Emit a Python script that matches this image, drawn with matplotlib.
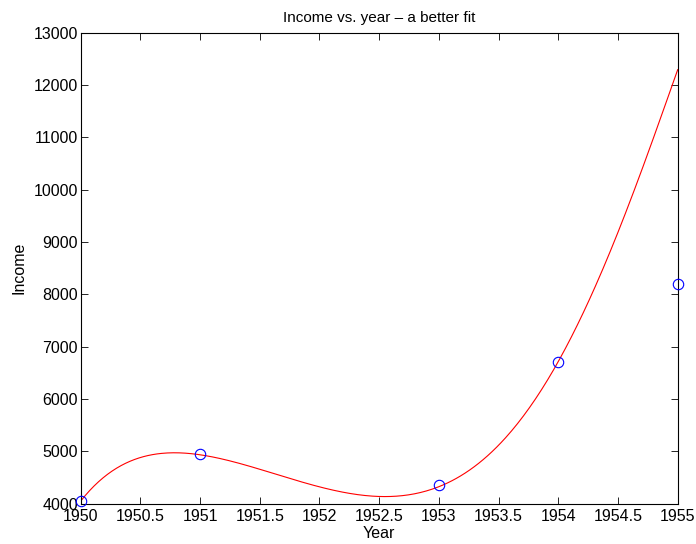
import numpy as np
import matplotlib
matplotlib.use("Agg")
import matplotlib.pyplot as plt

# observed data points
years = [1950, 1951, 1953, 1954, 1955]
income = [4050, 4950, 4350, 6700, 8200]

fit_years = [1950, 1950.5, 1951, 1951.5, 1952, 1952.5, 1953, 1953.5, 1954, 1954.5, 1955]
fit_income = [4050, 4870, 4950, 4660, 4310, 4125, 4355, 5110, 6700, 9200, 12290]

xticks = [1950, 1950.5, 1951, 1951.5, 1952, 1952.5, 1953, 1953.5, 1954, 1954.5, 1955]
xtick_labels = ["1950", "1950.5", "1951", "1951.5", "1952", "1952.5", "1953", "1953.5", "1954", "1954.5", "1955"]
yticks = [4000, 5000, 6000, 7000, 8000, 9000, 10000, 11000, 12000, 13000]

plt.rcParams['font.family'] = ['Liberation Sans', 'DejaVu Sans']
plt.rcParams['font.size'] = 11.5

fig = plt.figure(figsize=(6.96, 5.44), dpi=100)
ax = fig.add_axes([0.1158, 0.0741, 0.8579, 0.8658])

# smooth rendering of the fitted curve
fx = np.array(fit_years) - 1950
coef = np.polyfit(fx, fit_income, 6)
xs = np.linspace(0, 5, 400)
ax.plot(xs + 1950, np.polyval(coef, xs), color='red', lw=0.8)

ax.plot(years, income, 'o', mfc='none', mec='blue', mew=0.8, ms=7.5, clip_on=False, zorder=5)

ax.set_xlim(1950, 1955)
ax.set_ylim(4000, 13000)
ax.set_xticks(xticks)
ax.set_xticklabels(xtick_labels)
ax.set_yticks(yticks)
ax.tick_params(direction='in', top=True, right=True, length=5, width=0.6, labelsize=11.5)
ax.tick_params(axis='x', pad=4)
ax.tick_params(axis='y', pad=2)
for s in ax.spines.values():
    s.set_linewidth(0.8)
ax.set_xlabel("Year", labelpad=1)
ax.set_ylabel("Income", labelpad=5)
ax.set_title("Income vs. year \u2013 a better fit", fontsize=11, pad=8)

fig.savefig("out.png", dpi=100)
